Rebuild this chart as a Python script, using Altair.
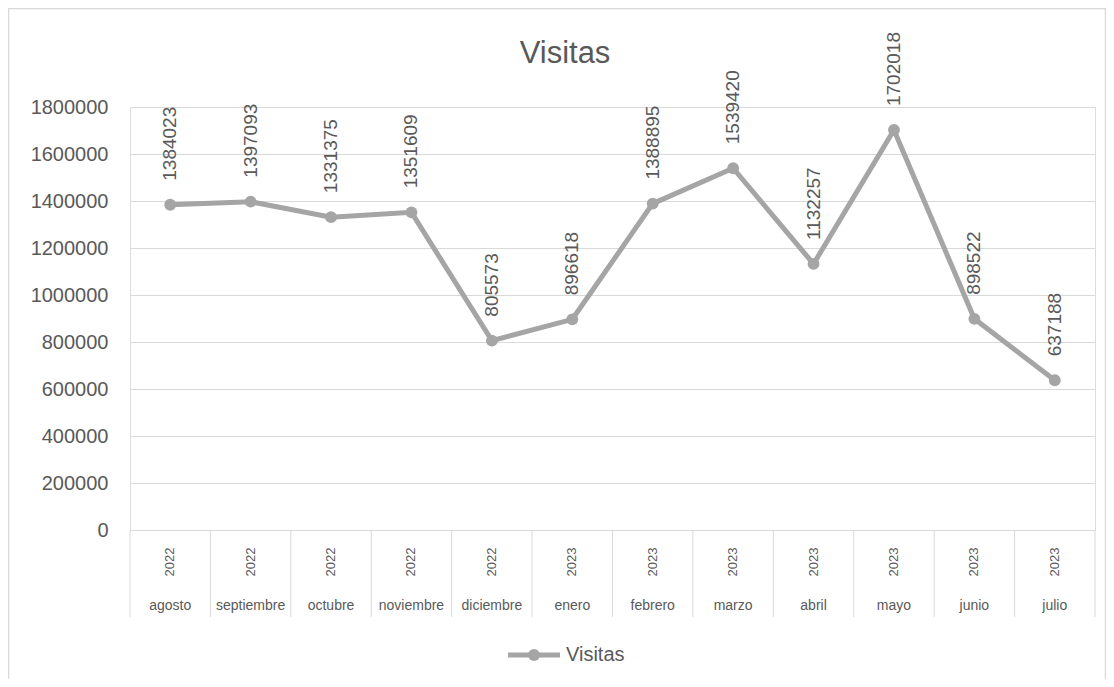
import altair as alt
import pandas as pd

meses = ["agosto", "septiembre", "octubre", "noviembre", "diciembre", "enero",
         "febrero", "marzo", "abril", "mayo", "junio", "julio"]
anios = ["2022", "2022", "2022", "2022", "2022", "2023",
         "2023", "2023", "2023", "2023", "2023", "2023"]
visitas = [1384023, 1397093, 1331375, 1351609, 805573, 896618,
           1388895, 1539420, 1132257, 1702018, 898522, 637188]
y_ticks = [0, 200000, 400000, 600000, 800000, 1000000, 1200000, 1400000, 1600000, 1800000]
titulo = "Visitas"
serie = "Visitas"

df = pd.DataFrame({"mes": meses, "anio": anios, "visitas": visitas})

W, H = 965, 423
GRAY = "#a5a5a5"
TXT = "#595959"
GRID = "#d9d9d9"
FONT = "Liberation Sans"

xscale = alt.Scale(type="band", domain=meses, paddingInner=0, paddingOuter=0)
yscale = alt.Scale(domain=[0, 1800000], nice=False, zero=True)
yaxis = alt.Axis(values=y_ticks, format="d", title=None, domain=False, ticks=False,
                 labelFontSize=20, labelColor=TXT, labelFont=FONT, labelPadding=22,
                 gridColor=GRID, gridWidth=1)


def X(**kw):
    return alt.X("mes:N", scale=xscale, axis=None, sort=meses, **kw)


def Y():
    return alt.Y("visitas:Q", scale=yscale, axis=yaxis)


base = alt.Chart(df)

border = alt.Chart(pd.DataFrame({"k": [0]})).mark_rect(
    fillOpacity=0, stroke=GRID, strokeWidth=1.5
).encode(x=alt.value(-121.5), x2=alt.value(975.5), y=alt.value(-98.5), y2=alt.value(H + 200))

line = base.mark_line(color=GRAY, strokeWidth=5).encode(x=X(), y=Y())
points = base.mark_point(filled=True, opacity=1, color=GRAY, size=140, shape="circle").encode(x=X(), y=Y())
labels = base.mark_text(angle=270, align="left", baseline="middle", dx=24,
                        fontSize=19, color=TXT, font=FONT).encode(
    x=X(), y=Y(), text=alt.Text("visitas:Q", format="d"))

sep = base.mark_rule(color=GRID, strokeWidth=1).encode(
    x=X(bandPosition=0), y=alt.value(H), y2=alt.value(H + 87))
sep_last = alt.Chart(df.tail(1)).mark_rule(color=GRID, strokeWidth=1).encode(
    x=X(bandPosition=1), y=alt.value(H), y2=alt.value(H + 87))

year_txt = base.mark_text(angle=270, align="center", baseline="middle",
                          fontSize=13, color=TXT, font=FONT).encode(
    x=X(), y=alt.value(H + 32), text="anio:N")
month_txt = base.mark_text(align="center", baseline="middle",
                           fontSize=14, color=TXT, font=FONT).encode(
    x=X(), y=alt.value(H + 76), text="mes:N")

title_df = pd.DataFrame({"t": [titulo]})
title_txt = alt.Chart(title_df).mark_text(align="center", baseline="middle",
                                          fontSize=31, color=TXT, font=FONT).encode(
    x=alt.value(435), y=alt.value(-53), text="t:N")

leg_df = pd.DataFrame({"s": [serie]})
leg_line = alt.Chart(leg_df).mark_rule(color=GRAY, strokeWidth=5).encode(
    x=alt.value(378), x2=alt.value(430), y=alt.value(548))
leg_pt = alt.Chart(leg_df).mark_point(filled=True, opacity=1, color=GRAY, size=140, shape="circle").encode(
    x=alt.value(404), y=alt.value(548))
leg_txt = alt.Chart(leg_df).mark_text(align="left", baseline="middle", fontSize=20,
                                      color=TXT, font=FONT).encode(
    x=alt.value(436), y=alt.value(548), text="s:N")

chart = alt.layer(
    border, sep, sep_last, line, points, labels, year_txt, month_txt,
    title_txt, leg_line, leg_pt, leg_txt
).properties(
    width=W, height=H,
    padding={"left": 122, "top": 99, "right": 11, "bottom": 149},
    autosize=alt.AutoSizeParams(type="none"),
).configure_view(stroke=None).configure(background="white")

chart.save("out.html", embed_options={"renderer": "svg", "actions": False})
